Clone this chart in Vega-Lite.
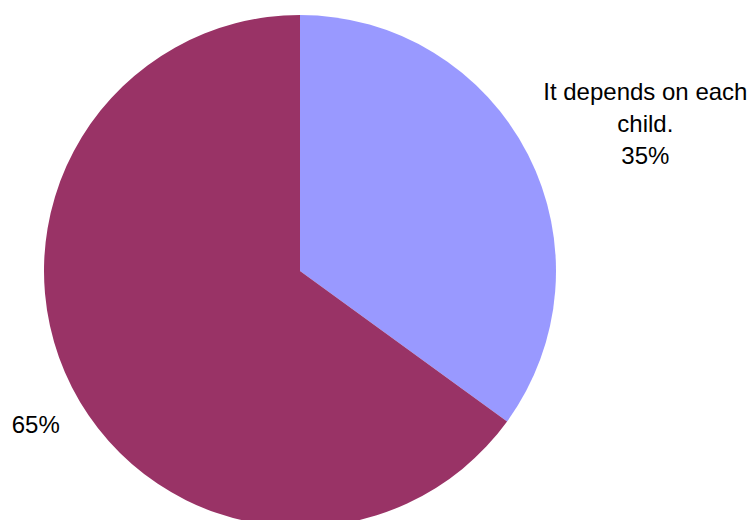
{
  "$schema": "https://vega.github.io/schema/vega-lite/v6.json",
  "width": 600,
  "height": 542,
  "autosize": {"type": "none"},
  "padding": {"left": 0, "top": 0, "right": 151, "bottom": 0},
  "background": "white",
  "config": {"view": {"stroke": null}, "font": "Liberation Sans"},
  "data": {
    "values": [
      {"category": "It depends on each child.", "value": 35, "label": "It depends on each\nchild.\n35%"},
      {"category": "Other", "value": 65, "label": "65%"}
    ]
  },
  "encoding": {
    "theta": {"field": "value", "type": "quantitative", "stack": true},
    "order": {"field": "value", "type": "quantitative", "sort": "ascending"}
  },
  "layer": [
    {
      "mark": {"type": "arc", "outerRadius": 256},
      "encoding": {
        "color": {
          "field": "category",
          "type": "nominal",
          "scale": {"domain": ["It depends on each child.", "Other"], "range": ["#9999FF", "#993366"]},
          "legend": null
        }
      }
    },
    {
      "mark": {"type": "text", "radius": 373, "dx": 13, "dy": -9, "fontSize": 24, "lineBreak": "\n", "lineHeight": 32, "align": "center", "baseline": "middle", "color": "black"},
      "encoding": {
        "text": {"condition": {"test": "datum.value === 35", "field": "label"}, "value": ""}
      }
    },
    {
      "mark": {"type": "text", "radius": 300, "dx": 3, "dy": 19, "fontSize": 24, "align": "center", "baseline": "middle", "color": "black"},
      "encoding": {
        "text": {"condition": {"test": "datum.value === 65", "field": "label"}, "value": ""}
      }
    }
  ]
}
